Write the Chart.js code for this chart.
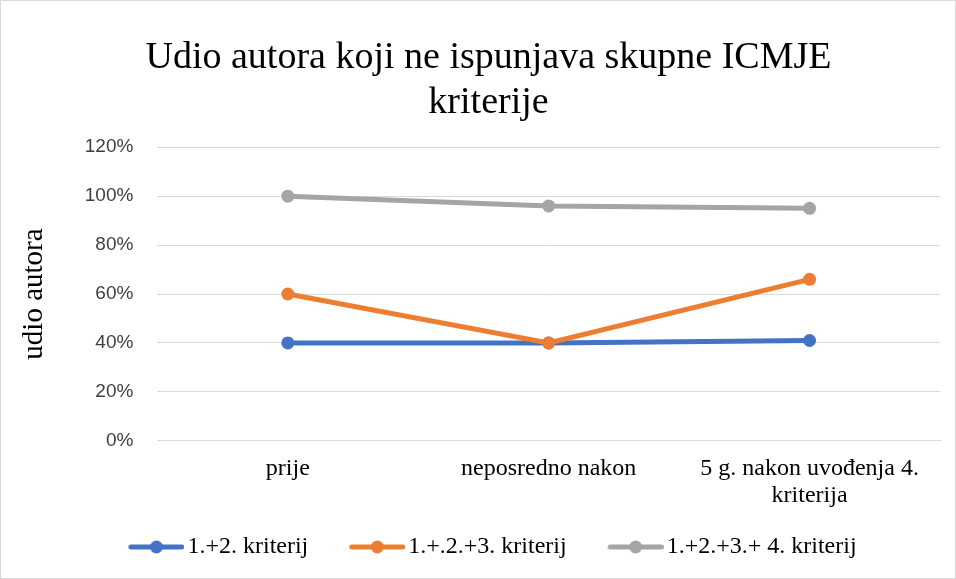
<!DOCTYPE html>
<html>
<head>
<meta charset="utf-8">
<script src="https://cdn.jsdelivr.net/npm/chart.js@4"></script>
<style>
html,body{margin:0;padding:0;background:#fff;}
#wrap{position:relative;width:956px;height:579px;box-sizing:border-box;border:1px solid #d9d9d9;}
</style>
</head>
<body>
<div id="wrap"><canvas id="c"></canvas></div>
<script>
const categories = ["prije", "neposredno nakon", ["5 g. nakon uvođenja 4.", "kriterija"]];
const seriesNames = ["1.+2. kriterij", "1.+.2.+3. kriterij", "1.+2.+3.+ 4. kriterij"];
const series12 = [0.40, 0.40, 0.41];
const series123 = [0.60, 0.40, 0.66];
const series1234 = [1.00, 0.96, 0.95];
const yTicks = [0, 0.2, 0.4, 0.6, 0.8, 1.0, 1.2];
const colors = ["#4472c4", "#ed7d31", "#a5a5a5"];

// legend icon: transparent lead-in, then line with a dot in the middle
function legendIcon(color) {
  const cv = document.createElement('canvas');
  cv.width = 95; cv.height = 14;
  const g = cv.getContext('2d');
  g.strokeStyle = color; g.lineWidth = 5; g.lineCap = 'round';
  g.beginPath(); g.moveTo(41.5, 7); g.lineTo(92.5, 7); g.stroke();
  g.fillStyle = color; g.beginPath(); g.arc(67, 7, 6.5, 0, Math.PI * 2); g.fill();
  return cv;
}
const icons = colors.map(legendIcon);

const shiftPlugin = {
  id: 'shiftBoxes',
  afterLayout(chart) {
    if (chart.titleBlock) { chart.titleBlock.left += 10; chart.titleBlock.right += 10; }
    if (chart.legend) { chart.legend.left -= 1; chart.legend.right -= 1; }
  }
};

const data = [series12, series123, series1234];
new Chart(document.getElementById('c'), {
  type: 'line',
  data: {
    labels: categories,
    datasets: data.map((d, i) => ({
      label: seriesNames[i],
      data: d,
      borderColor: colors[i],
      backgroundColor: colors[i],
      borderWidth: 5,
      pointRadius: 6.5,
      pointHoverRadius: 6.5,
      pointBackgroundColor: colors[i],
      pointBorderWidth: 0,
      tension: 0,
      order: 3 - i
    }))
  },
  plugins: [shiftPlugin],
  options: {
    responsive: true,
    maintainAspectRatio: false,
    animation: false,
    layout: { padding: { left: 16, right: 15, top: 34, bottom: 9 } },
    plugins: {
      title: {
        display: true,
        text: ["Udio autora koji ne ispunjava skupne ICMJE", "kriterije"],
        font: { family: "'Liberation Serif', serif", size: 38, weight: 'normal' },
        color: '#000000',
        lineHeight: 1.1,
        padding: { top: 0, bottom: 21 }
      },
      legend: {
        position: 'bottom',
        labels: {
          usePointStyle: true,
          pointStyleWidth: 77,
          font: { family: "'Liberation Serif', serif", size: 24 },
          color: '#000000',
          padding: 11,
          boxHeight: 14,
          generateLabels: (chart) => chart.data.datasets.map((ds, i) => ({
            text: ds.label,
            fillStyle: colors[i],
            strokeStyle: colors[i],
            lineWidth: 0,
            pointStyle: icons[i],
            datasetIndex: i,
            hidden: false,
            fontColor: '#000000'
          }))
        }
      },
      tooltip: { enabled: false }
    },
    scales: {
      x: {
        offset: true,
        grid: { display: false, drawTicks: false },
        border: { color: '#d9d9d9', width: 1 },
        ticks: {
          font: { family: "'Liberation Serif', serif", size: 24, lineHeight: 1.15 },
          color: '#000000',
          padding: 14,
          maxRotation: 0
        }
      },
      y: {
        min: 0,
        max: 1.2,
        afterBuildTicks: (axis) => { axis.ticks = yTicks.map(v => ({ value: v })); },
        grid: { color: '#d9d9d9', lineWidth: 1, drawTicks: false },
        border: { display: false },
        ticks: {
          font: { family: "'Liberation Sans', sans-serif", size: 19 },
          color: '#404040',
          padding: 24,
          callback: (v) => Math.round(v * 100) + '%'
        },
        title: {
          display: true,
          text: 'udio autora',
          font: { family: "'Liberation Serif', serif", size: 29, lineHeight: 1.2 },
          color: '#000000',
          padding: { top: 0, bottom: 9 }
        }
      }
    }
  }
});
</script>
</body>
</html>
